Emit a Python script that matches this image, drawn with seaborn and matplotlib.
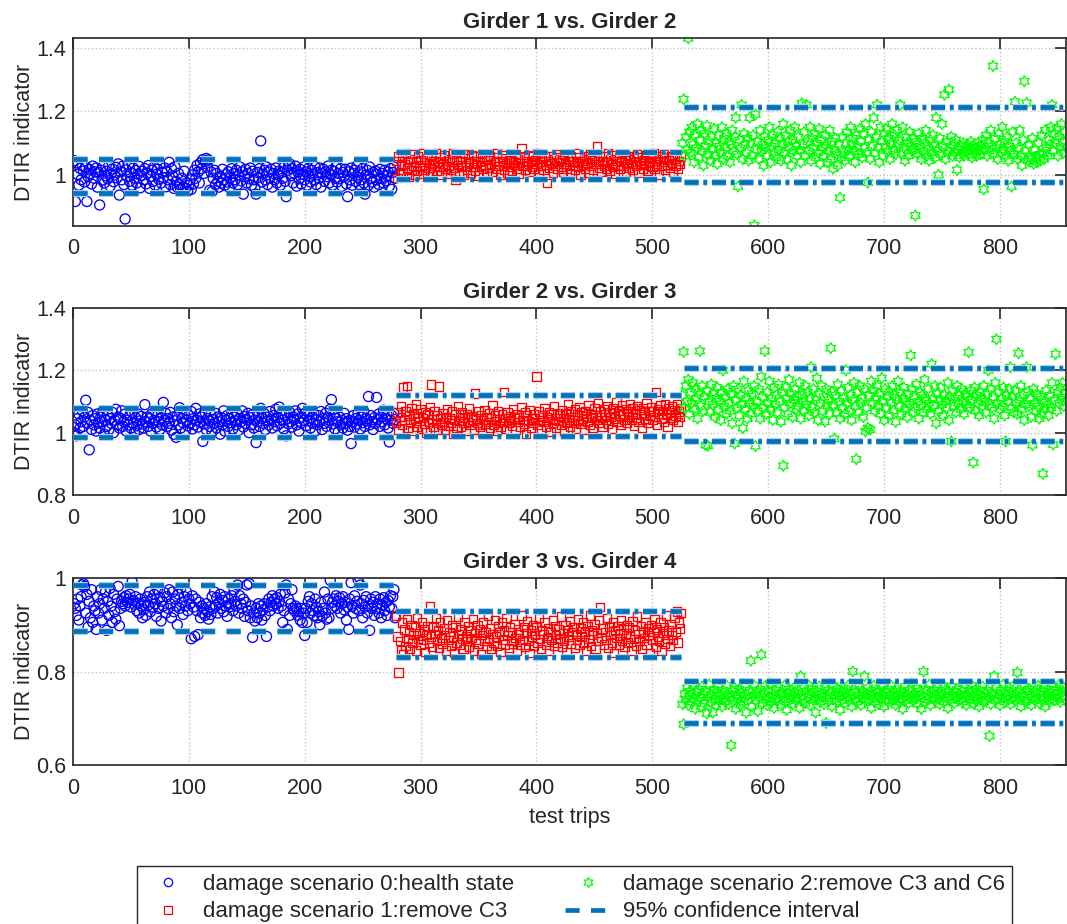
import numpy as np
import matplotlib
matplotlib.use("Agg")
import matplotlib.pyplot as plt
from matplotlib.path import Path
from matplotlib.lines import Line2D
import matplotlib.patheffects as pe
import seaborn as sns

# ---------------- data (DTIR indicator x 1000), trips numbered from 1 ----------------
seg_start = [1, 279, 526]          # first trip of damage scenario 0, 1, 2

g12_s0 = [1045, 917, 1038, 1002, 968, 1021, 985, 1030, 1012, 978, 1025, 917, 995, 1018, 1005, 972, 1028, 990, 1010, 1022,
          962, 1008, 906, 1015, 984, 1026, 975, 998, 1012, 988, 1030, 965, 1004, 1019, 979, 1000, 1024, 991, 1035, 937,
          1010, 985, 1028, 970, 862, 1016, 995, 1032, 980, 1006, 968, 1022, 990, 1014, 975, 1003, 1027, 960, 998, 1012,
          985, 1020, 972, 1005, 1030, 958, 995, 1015, 980, 1025, 968, 1002, 1018, 987, 1035, 975, 1008, 992, 1022, 963,
          1010, 985, 1040, 970, 1020, 996, 958, 1026, 980, 962, 1005, 970, 955, 990, 962, 1012, 958, 975, 950, 968,
          985, 955, 1000, 972, 1015, 990, 1030, 1010, 975, 1038, 1020, 1048, 1005, 1042, 1052, 1025, 1047, 952, 1010, 948,
          990, 1015, 970, 1005, 980, 962, 995, 975, 1018, 985, 968, 1002, 978, 1010, 960, 992, 1020, 975, 1005, 985,
          1015, 970, 1000, 1025, 982, 1010, 940, 995, 1018, 975, 1005, 988, 1022, 968, 1012, 985, 960, 940, 1008, 992,
          1020, 1107, 978, 1003, 1015, 985, 1025, 970, 1010, 990, 1018, 962, 1005, 985, 1022, 975, 1000, 1012, 968, 1008,
          990, 1025, 980, 932, 1015, 1030, 1035, 998, 1020, 975, 1005, 1028, 965, 1010, 988, 1018, 972, 1002, 1025, 985,
          1010, 968, 1020, 995, 978, 1015, 1003, 985, 1025, 970, 1008, 990, 1022, 962, 1005, 1018, 980, 1010, 995, 1028,
          975, 1002, 1015, 968, 1012, 990, 1025, 978, 1005, 988, 1020, 965, 1008, 995, 1018, 972, 932, 1010, 985, 1022,
          968, 1005, 1015, 980, 1028, 992, 970, 1010, 985, 1020, 975, 940, 1000, 1015, 968, 1025, 990, 978, 1008, 962,
          1012, 985, 1002, 970, 1018, 990, 1005, 975, 1015, 982, 998, 1010, 965, 1020, 955, 1008, 1025, 990]
g12_s1 = [1045, 990, 1060, 1010, 1030, 1055, 1005, 1035, 1070, 1020, 1040, 995, 1050, 1015, 1065, 1028, 1000, 1042, 1012, 1058,
          1025, 1048, 1003, 1068, 1032, 1015, 1052, 995, 1038, 1022, 1060, 1008, 1045, 1030, 1070, 1012, 1040, 1025, 1055, 1000,
          1035, 1062, 1018, 1045, 1005, 1028, 1050, 1015, 1040, 1068, 1022, 985, 1048, 1032, 1010, 1058, 1025, 1042, 1002, 1065,
          1030, 1015, 1052, 1038, 1008, 1062, 1025, 1045, 1012, 1035, 1058, 998, 1042, 1028, 1065, 1018, 1050, 1032, 1005, 1048,
          1022, 1060, 1035, 1010, 1055, 1040, 1018, 1068, 1028, 1045, 1002, 1052, 1030, 1015, 1062, 1038, 1008, 1048, 1025, 1058,
          1012, 1042, 1032, 1065, 1020, 1050, 1005, 1038, 1084, 1028, 1055, 1015, 1045, 1030, 1062, 1010, 1040, 1025, 1058, 1018,
          1048, 1035, 1068, 1002, 1052, 1028, 1042, 1015, 1060, 1032, 975, 1045, 1022, 1058, 1038, 1008, 1050, 1030, 1065, 1018,
          1040, 1055, 1025, 1048, 1010, 1062, 1035, 1020, 1052, 1042, 1005, 1058, 1030, 1045, 1015, 1068, 1038, 1025, 1055, 1002,
          1045, 1032, 1060, 1018, 1050, 1038, 1008, 1065, 1028, 1048, 1015, 1055, 1035, 1090, 1042, 1022, 1060, 1010, 1045, 1030,
          1058, 1020, 1040, 1068, 1012, 1050, 1035, 1025, 1062, 1005, 1045, 1030, 1055, 1018, 1042, 1065, 1028, 1048, 1010, 1038,
          1060, 1022, 1050, 1035, 1015, 1058, 1040, 1028, 1065, 1008, 1045, 1032, 1055, 1020, 1048, 1038, 1062, 1012, 1042, 1030,
          1055, 1025, 1068, 1018, 1045, 1035, 1060, 1002, 1050, 1028, 1042, 1065, 1015, 1055, 1032, 1048, 1022, 1060, 1038, 1010,
          1052, 1030, 1065, 1018, 1045, 1035, 1058]
g12_s2 = [1100, 1238, 1060, 1120, 1080, 1429, 1135, 1070, 1150, 1095, 1040, 1125, 1085, 1160, 1055, 1110, 1140, 1075, 1030, 1130,
          1090, 1155, 1065, 1105, 1045, 1120, 1080, 1145, 1060, 1100, 1035, 1125, 1090, 1070, 1150, 1050, 1115, 1085, 1130, 1060,
          1105, 1040, 1095, 1140, 1075, 1120, 1180, 1065, 964, 1110, 1085, 1220, 1050, 1130, 1095, 1070, 1115, 1045, 1180, 1100,
          1060, 1125, 842, 1190, 1080, 1105, 1050, 1140, 1075, 1095, 1030, 1120, 1085, 1060, 1110, 1150, 1040, 1090, 1125, 1070,
          1100, 1055, 1135, 1080, 1115, 1045, 1095, 1160, 1070, 1125, 1050, 1105, 1085, 1140, 1030, 1110, 1075, 1150, 1090, 1060,
          1120, 1080, 1040, 1225, 1095, 1135, 1060, 1220, 1105, 1075, 1150, 1045, 1115, 1085, 1130, 1055, 1100, 1070, 1145, 1035,
          1110, 1085, 1060, 1125, 1095, 1040, 1075, 1140, 1050, 1105, 1020, 1080, 1115, 1065, 1030, 1095, 929, 1055, 1120, 1070,
          1045, 1100, 1135, 1080, 1060, 1150, 1095, 1115, 1075, 1040, 1125, 1090, 1065, 1145, 1105, 1055, 1130, 1085, 1160, 1070,
          976, 1110, 1050, 1135, 1095, 1180, 1070, 1120, 1220, 1085, 1040, 1150, 1105, 1060, 1130, 1090, 1145, 1075, 1115, 1050,
          1100, 1160, 1080, 1125, 1065, 1140, 1095, 1110, 1220, 1070, 1150, 1085, 1045, 1120, 1100, 1060, 1135, 1090, 1075, 1115,
          1080, 873, 1105, 1065, 1130, 1090, 1050, 1115, 1075, 1100, 1140, 1060, 1085, 1045, 1110, 1070, 1125, 1095, 1055, 1180,
          1080, 1000, 1115, 1065, 1160, 1090, 1252, 1050, 1105, 1075, 1268, 1085, 1120, 1060, 1095, 1070, 1110, 1016, 1080, 1055,
          1090, 1070, 1100, 1060, 1085, 1075, 1095, 1065, 1080, 1105, 1055, 1090, 1072, 1085, 1060, 1100, 1078, 1065, 1092, 1110,
          955, 1080, 1125, 1060, 1100, 1075, 1140, 1090, 1342, 1065, 1115, 1085, 1050, 1130, 1095, 1070, 1150, 1080, 1105, 1060,
          1120, 1045, 1090, 1075, 964, 1135, 1065, 1230, 1100, 1050, 1085, 1140, 1060, 1030, 1110, 1294, 1075, 1226, 1045, 1095,
          1060, 1050, 1115, 1035, 1080, 1055, 1040, 1100, 1065, 1045, 1125, 1070, 1050, 1140, 1085, 1060, 1110, 1095, 1150, 1220,
          1075, 1130, 1100, 1145, 1060, 1120, 1090, 1160, 1105, 1070, 1135, 1085]

g23_s0 = [1000, 1025, 990, 1045, 1060, 1015, 1035, 1070, 1020, 1050, 1104, 1030, 1065, 945, 1040, 1010, 1055, 1025, 1045, 1005,
          1060, 1030, 1015, 1050, 1035, 1070, 995, 1040, 1020, 1055, 1010, 1045, 1030, 1065, 1000, 1040, 1075, 1025, 1050, 1015,
          1045, 1070, 1020, 1035, 1060, 1005, 1040, 1025, 1055, 1015, 1065, 1030, 1000, 1048, 1022, 1060, 1010, 1038, 1052, 1028,
          1015, 1090, 1035, 1050, 1020, 1045, 1005, 1060, 1030, 1040, 1070, 1018, 1055, 1035, 1010, 1048, 1025, 1097, 1040, 1062,
          1020, 1045, 1030, 1065, 1008, 1050, 995, 1038, 985, 1055, 1025, 1080, 1015, 1045, 1032, 1060, 1005, 1040, 1022, 1055,
          1030, 1068, 1012, 1045, 1025, 1078, 1040, 1018, 1060, 1035, 1050, 972, 1028, 1065, 1010, 1045, 1038, 1020, 1058, 1002,
          1042, 1030, 1062, 1015, 1050, 1035, 995, 1048, 1025, 1070, 1005, 1040, 1055, 1020, 1045, 1032, 1065, 1012, 1050, 1038,
          1025, 1060, 1008, 1045, 1035, 1070, 1018, 1052, 1030, 1042, 1062, 1000, 1048, 1025, 1058, 1015, 1040, 968, 1035, 1055,
          1020, 1078, 1045, 1030, 1062, 1010, 1050, 1038, 1025, 1068, 1042, 1015, 1055, 1035, 1075, 1022, 1048, 1082, 1030, 1060,
          1040, 1012, 1055, 990, 1045, 1028, 1065, 1035, 1018, 1050, 1042, 1070, 1025, 1060, 1005, 1048, 1032, 1078, 1040, 1062,
          1022, 1055, 1038, 1070, 1015, 1048, 1030, 1060, 1005, 1042, 1025, 1055, 1035, 1068, 1010, 1045, 1030, 1062, 1020, 1050,
          1040, 1075, 1106, 1028, 1058, 1012, 1045, 1035, 1002, 1050, 1025, 1040, 1015, 1062, 1030, 1045, 1008, 1038, 1020, 965,
          1035, 1055, 1018, 1045, 1028, 1062, 1040, 1012, 1050, 1032, 1068, 1020, 1045, 1038, 1116, 1025, 1055, 1035, 1010, 1048,
          1030, 1113, 1042, 1060, 1020, 1050, 1035, 1072, 1025, 1045, 1058, 1015, 970, 1040, 1055, 1030, 1062, 1042]
g23_s1 = [1030, 1065, 1010, 1050, 1085, 1025, 1145, 1040, 1070, 1150, 1015, 1055, 1035, 1080, 1005, 1060, 1045, 1090, 1020, 1052,
          1038, 1075, 1012, 1048, 1028, 1065, 1000, 1058, 1035, 1082, 1155, 1042, 1018, 1070, 1030, 1055, 1010, 1148, 1045, 1025,
          1062, 1035, 1008, 1050, 1075, 1022, 1045, 1032, 1068, 995, 1040, 1058, 1015, 1085, 1038, 1050, 1020, 1065, 1030, 1048,
          1005, 1060, 1035, 1078, 1025, 1052, 1042, 1010, 1126, 1045, 1030, 1068, 1018, 1055, 998, 1040, 1072, 1028, 1050, 1035,
          1062, 1015, 1045, 1088, 1025, 1055, 1038, 1005, 1070, 1042, 1020, 1058, 1035, 1130, 1048, 1012, 1065, 1030, 1052, 1040,
          1022, 1075, 1045, 1008, 1060, 1035, 1050, 1018, 1082, 1040, 1028, 1065, 995, 1055, 1038, 1072, 1015, 1048, 1032, 1060,
          1045, 1180, 1025, 1068, 1040, 1010, 1055, 1035, 1078, 1020, 1050, 1042, 1065, 1002, 1058, 1030, 1085, 1045, 1015, 1062,
          1038, 1055, 1025, 1072, 1048, 1005, 1060, 1035, 1090, 1042, 1020, 1068, 1050, 1030, 1075, 1012, 1058, 1040, 1082, 1028,
          1065, 1045, 1010, 1070, 1052, 1035, 1088, 1025, 1060, 1048, 1015, 1078, 1055, 1040, 1095, 1030, 1068, 1050, 1020, 1075,
          1058, 1040, 1085, 1028, 1065, 1050, 1012, 1080, 1062, 1045, 1098, 1035, 1070, 1055, 1025, 1088, 1060, 1042, 1075, 1030,
          1068, 1052, 1090, 1040, 1078, 1022, 1062, 1048, 1085, 1035, 1072, 1058, 1015, 1080, 1065, 1045, 1095, 1030, 1070, 1055,
          1082, 1040, 1068, 1050, 1130, 1025, 1075, 1060, 1088, 1045, 1070, 1035, 1092, 1058, 1020, 1078, 1065, 1048, 1085, 1040,
          1072, 1055, 1090, 1035, 1068, 1050, 1080]
g23_s2 = [1120, 1259, 1080, 1150, 1100, 1170, 1060, 1130, 1095, 1160, 1075, 1140, 1110, 1045, 1125, 1262, 1085, 1150, 1070, 1115,
          960, 1135, 958, 1100, 1065, 1155, 1090, 1125, 1050, 1110, 1145, 1075, 1100, 1040, 1130, 1200, 1085, 1115, 1060, 1140,
          1095, 1070, 1125, 1030, 1150, 965, 1105, 1080, 1140, 1055, 1120, 1090, 1015, 1165, 1075, 1110, 1045, 1135, 1095, 1060,
          1125, 1085, 1150, 957, 1100, 1070, 1140, 1045, 1180, 1115, 1080, 1262, 1060, 1130, 1095, 1165, 1075, 1110, 1040, 1145,
          1090, 1120, 1065, 1155, 1100, 1035, 1130, 894, 1080, 1145, 1110, 1060, 1170, 1095, 1125, 1050, 1105, 1140, 1075, 1115,
          1085, 1160, 1045, 1120, 1100, 1070, 1150, 1090, 1130, 1055, 1110, 1210, 1080, 1140, 1065, 1105, 1175, 1040, 1125, 1095,
          1150, 1070, 1115, 1035, 1140, 1085, 1105, 1060, 1271, 1130, 1090, 980, 1120, 1065, 1155, 1100, 1045, 1135, 1080, 1110,
          1060, 1200, 1095, 1145, 1070, 1120, 1040, 1105, 1160, 1085, 915, 1130, 1065, 1150, 1095, 1110, 1050, 1140, 1004, 1080,
          1015, 1120, 1010, 1165, 1095, 1135, 1070, 1110, 1150, 1085, 1125, 1060, 1175, 1100, 1040, 1140, 1080, 1115, 1055, 1130,
          1095, 1150, 1070, 1120, 1035, 1105, 1165, 1085, 1130, 1060, 1110, 1145, 1075, 1100, 1050, 1125, 1090, 1248, 1140, 1065,
          1115, 1080, 1155, 1100, 1045, 1130, 1090, 1120, 1065, 1170, 1105, 1075, 1140, 1095, 1060, 1220, 1110, 1085, 1150, 1030,
          1125, 1070, 1105, 1145, 1090, 1055, 1120, 1100, 1080, 1160, 1040, 1115, 972, 1135, 1085, 1110, 1065, 1150, 1095, 1120,
          1075, 1140, 1100, 1060, 1125, 1090, 1115, 1258, 1080, 1135, 1105, 904, 1145, 1070, 1120, 1095, 1055, 1130, 1110, 1085,
          1150, 1100, 1065, 1125, 1200, 1090, 1140, 1080, 1115, 1045, 1160, 1300, 1095, 1130, 1075, 1110, 1085, 1145, 1055, 972,
          1120, 1100, 1140, 1210, 1080, 1115, 1065, 1135, 1095, 1060, 1255, 1105, 1150, 1075, 1120, 1040, 1090, 1210, 1130, 1085,
          1110, 1050, 960, 1140, 1095, 1070, 1125, 1085, 1045, 1115, 1060, 868, 1100, 1075, 1135, 1090, 1055, 1120, 1080, 1160,
          962, 1105, 1252, 1070, 1130, 1095, 1145, 1115, 1160, 1085, 1125, 1100]

g34_s0 = [945, 935, 920, 955, 910, 940, 960, 985, 988, 982, 925, 965, 895, 950, 915, 975, 905, 940, 930, 890,
          960, 925, 945, 975, 910, 955, 935, 970, 888, 950, 920, 978, 940, 905, 965, 928, 912, 955, 982, 898,
          935, 950, 945, 958, 940, 962, 948, 955, 965, 938, 992, 952, 944, 960, 930, 946, 925, 955, 940, 915,
          932, 948, 920, 960, 942, 970, 928, 955, 938, 965, 945, 918, 975, 935, 958, 908, 950, 940, 968, 925,
          960, 935, 975, 945, 915, 970, 928, 955, 940, 900, 965, 935, 978, 948, 922, 960, 940, 970, 930, 955,
          945, 870, 962, 938, 875, 955, 930, 879, 948, 915, 940, 925, 935, 920, 945, 928, 912, 938, 922, 960,
          935, 970, 942, 958, 925, 948, 965, 935, 952, 928, 960, 940, 918, 955, 938, 945, 962, 930, 975, 950,
          940, 985, 925, 962, 945, 935, 955, 918, 948, 985, 930, 988, 915, 940, 873, 925, 908, 935, 915, 945,
          925, 940, 910, 932, 945, 920, 875, 938, 955, 930, 948, 962, 940, 955, 945, 958, 935, 950, 965, 940,
          905, 930, 968, 985, 890, 955, 920, 945, 975, 935, 930, 940, 935, 920, 928, 910, 935, 905, 925, 877,
          935, 905, 950, 960, 925, 945, 930, 920, 955, 938, 915, 928, 900, 948, 918, 935, 970, 925, 912, 955,
          915, 995, 935, 948, 955, 940, 962, 935, 950, 958, 925, 945, 960, 932, 948, 910, 938, 890, 955, 990,
          940, 925, 962, 935, 950, 997, 930, 985, 945, 915, 952, 938, 960, 925, 940, 888, 955, 935, 948, 920,
          960, 935, 945, 925, 955, 915, 942, 958, 930, 948, 920, 952, 938, 962, 935, 960, 975, 915]
g34_s1 = [920, 875, 798, 865, 845, 905, 838, 890, 855, 912, 870, 885, 848, 900, 862, 878, 895, 845, 915, 870,
          882, 858, 905, 868, 890, 842, 878, 898, 862, 940, 875, 852, 895, 880, 915, 865, 888, 850, 905, 872,
          860, 892, 878, 845, 910, 868, 885, 855, 900, 875, 840, 895, 862, 918, 880, 858, 890, 870, 848, 905,
          875, 865, 898, 852, 888, 872, 912, 845, 882, 868, 900, 860, 890, 838, 878, 905, 865, 885, 855, 920,
          870, 892, 848, 880, 862, 910, 875, 855, 898, 885, 842, 905, 868, 888, 858, 915, 878, 850, 895, 865,
          885, 860, 902, 872, 845, 890, 880, 858, 920, 868, 895, 852, 882, 908, 865, 840, 888, 875, 900, 855,
          878, 895, 862, 915, 870, 848, 888, 880, 905, 858, 872, 892, 845, 885, 868, 910, 855, 898, 878, 862,
          890, 870, 918, 852, 882, 865, 900, 842, 888, 875, 908, 860, 885, 895, 850, 880, 868, 912, 858, 892,
          875, 905, 862, 885, 845, 898, 870, 920, 855, 888, 878, 902, 848, 882, 865, 910, 938, 872, 892, 858,
          885, 868, 915, 850, 895, 878, 862, 905, 840, 888, 872, 898, 858, 882, 910, 865, 890, 852, 878, 900,
          862, 895, 875, 845, 908, 870, 888, 855, 918, 880, 865, 898, 848, 885, 872, 905, 858, 892, 878, 840,
          900, 868, 885, 912, 852, 890, 875, 865, 905, 845, 882, 895, 860, 920, 870, 888, 855, 902, 878, 868,
          915, 885, 928, 862, 905, 892, 925]
g34_s2 = [730, 687, 752, 740, 765, 728, 748, 758, 735, 770, 742, 720, 755, 738, 762, 745, 725, 768, 750, 732,
          758, 710, 745, 772, 735, 750, 712, 762, 740, 728, 755, 768, 738, 748, 725, 760, 742, 735, 770, 752,
          730, 745, 642, 758, 738, 765, 720, 750, 742, 762, 728, 755, 745, 735, 768, 712, 750, 740, 760, 823,
          725, 748, 770, 738, 755, 715, 745, 762, 836, 732, 752, 768, 740, 728, 758, 745, 775, 735, 750, 722,
          760, 742, 738, 765, 750, 728, 755, 745, 770, 735, 718, 752, 762, 740, 748, 730, 765, 755, 738, 745,
          758, 722, 790, 748, 740, 765, 732, 755, 745, 770, 728, 750, 762, 738, 745, 712, 758, 742, 768, 735,
          752, 745, 730, 765, 690, 748, 760, 738, 755, 725, 770, 742, 750, 735, 762, 748, 718, 758, 740, 765,
          732, 755, 745, 770, 738, 750, 725, 800, 762, 742, 755, 735, 768, 748, 728, 758, 745, 790, 738, 752,
          765, 740, 755, 722, 748, 770, 735, 760, 745, 730, 758, 742, 768, 750, 725, 755, 740, 762, 735, 748,
          770, 738, 752, 745, 728, 762, 748, 735, 758, 742, 720, 755, 768, 740, 750, 732, 760, 745, 775, 738,
          752, 742, 765, 730, 748, 758, 720, 745, 800, 735, 762, 750, 740, 772, 728, 755, 745, 760, 738, 750,
          765, 742, 730, 755, 748, 770, 735, 760, 745, 722, 758, 740, 768, 750, 732, 755, 745, 762, 738, 750,
          742, 758, 735, 765, 750, 728, 748, 760, 740, 755, 770, 732, 745, 762, 738, 750, 725, 758, 745, 768,
          735, 752, 740, 760, 745, 662, 730, 755, 748, 790, 738, 765, 742, 750, 728, 760, 745, 772, 735, 755,
          748, 740, 765, 730, 755, 745, 770, 738, 752, 798, 742, 760, 725, 750, 745, 768, 735, 758, 740, 762,
          750, 728, 745, 765, 738, 755, 742, 770, 732, 758, 748, 740, 765, 725, 752, 745, 762, 735, 755, 742,
          768, 738, 750, 760, 745, 772, 735, 755, 748, 765, 740, 758]

# 95% confidence interval bounds (upper, lower) per scenario, and their trip extents
g12_ci = [(1.050, 0.944), (1.072, 0.987), (1.212, 0.978)]
g23_ci = [(1.080, 0.987), (1.120, 0.990), (1.206, 0.974)]
g34_ci = [(0.985, 0.887), (0.930, 0.830), (0.780, 0.690)]
ci_span = [(0, 278), (279, 525), (527, 857)]

titles = ["Girder 1 vs. Girder 2", "Girder 2 vs. Girder 3", "Girder 3 vs. Girder 4"]
legend_labels = ["damage scenario 0:health state", "damage scenario 1:remove C3",
                 "damage scenario 2:remove C3 and C6", "95% confidence interval"]
x_ticks = [0, 100, 200, 300, 400, 500, 600, 700, 800]
y_ticks = [[1.0, 1.2, 1.4], [0.8, 1.0, 1.2, 1.4], [0.6, 0.8, 1.0]]
y_limits = [(0.84, 1.43), (0.8, 1.4), (0.6, 1.0)]

# ---------------- style ----------------
sns.set_style("white")
plt.rcParams["font.family"] = ["Liberation Sans", "DejaVu Sans"]

# hexagram marker (MATLAB style six-pointed star)
ang = np.deg2rad(90 + 30 * np.arange(12))
rad = np.where(np.arange(12) % 2 == 0, 1.0, 1 / np.sqrt(3))
verts = np.column_stack([rad * np.cos(ang), rad * np.sin(ang)])
verts = np.vstack([verts, verts[:1]])
codes = [Path.MOVETO] + [Path.LINETO] * 11 + [Path.CLOSEPOLY]
hexagram = Path(verts, codes)

markers = ["o", "s", hexagram]
msizes = [52, 36, 62]
mcolors = ["#0000ff", "#ff0000", "#00ff00"]
ci_color = "#0072BD"
ci_lw = 3.4
ci_dashes = [(3.0, 2.4), (3.0, 1.0, 0.8, 1.0), (3.0, 1.0, 0.8, 1.0)]
halo = [pe.Stroke(linewidth=ci_lw + 1.6, foreground="#a9cfee"), pe.Normal()]

fig = plt.figure(figsize=(10.67, 9.24), dpi=100)
W, H = 1067.0, 924.0
rects = [(73, 38, 226), (73, 308, 495), (73, 578, 765)]

all_series = [[g12_s0, g12_s1, g12_s2], [g23_s0, g23_s1, g23_s2], [g34_s0, g34_s1, g34_s2]]
all_ci = [g12_ci, g23_ci, g34_ci]

for p in range(3):
    left, top, bot = rects[p]
    ax = fig.add_axes([left / W, 1 - bot / H, (1066 - left) / W, (bot - top) / H])
    for k in range(3):
        vals = np.asarray(all_series[p][k]) / 1000.0
        x = seg_start[k] + np.arange(len(vals))
        sns.scatterplot(x=x, y=vals, ax=ax, marker=markers[k], s=msizes[k],
                        facecolor="none", edgecolor=mcolors[k], linewidth=0.95,
                        legend=False, zorder=2)
    for k in range(3):
        x0, x1 = ci_span[k]
        for yv in all_ci[p][k]:
            ax.plot([x0, x1], [yv, yv], color=ci_color, lw=ci_lw, dashes=ci_dashes[k],
                    dash_capstyle="butt", path_effects=halo, zorder=3)
    ax.set_xlim(0, 857)
    ax.set_ylim(*y_limits[p])
    ax.set_xticks(x_ticks)
    ax.set_yticks(y_ticks[p])
    ax.yaxis.set_major_formatter(matplotlib.ticker.FormatStrFormatter("%g"))
    ax.grid(True, linestyle=":", color="#c4c4c4", linewidth=1.0, zorder=0)
    ax.set_axisbelow(True)
    ax.tick_params(direction="in", length=8, width=1.2, top=True, right=True,
                   labelsize=15.5, colors="#262626")
    ax.tick_params(axis="x", pad=9)
    ax.tick_params(axis="y", pad=5)
    for s in ax.spines.values():
        s.set_linewidth(1.2)
        s.set_color("#262626")
    ax.set_title(titles[p], fontsize=16, fontweight="bold", pad=7)
    ax.set_ylabel("DTIR indicator", fontsize=15.5, color="#262626")
    ax.yaxis.set_label_coords(-0.038, 0.5)
    ax.set_xlabel("")
    if p == 2:
        ax.set_xlabel("test trips", fontsize=15.5, color="#262626", labelpad=6)

handles = [
    Line2D([], [], marker="o", linestyle="None", markerfacecolor="none", markeredgecolor=mcolors[0],
           markersize=6, markeredgewidth=0.9),
    Line2D([], [], marker="s", linestyle="None", markerfacecolor="none", markeredgecolor=mcolors[1],
           markersize=5.5, markeredgewidth=0.9),
    Line2D([], [], marker=hexagram, linestyle="None", markerfacecolor="none", markeredgecolor=mcolors[2],
           markersize=7, markeredgewidth=0.9),
    Line2D([], [], color=ci_color, lw=ci_lw, dashes=ci_dashes[0], dash_capstyle="butt"),
]
leg = fig.legend(handles, legend_labels, loc="upper left", bbox_to_anchor=(137 / W, 1 - 866 / H),
                 ncol=2, frameon=True, fancybox=False, edgecolor="#262626", framealpha=1,
                 fontsize=16, handlelength=2.1, handletextpad=0.5, columnspacing=2.3,
                 borderpad=0.35, labelspacing=0.3, borderaxespad=0)
leg.get_frame().set_linewidth(1.0)

fig.savefig("out.png", dpi=100, facecolor="white")
